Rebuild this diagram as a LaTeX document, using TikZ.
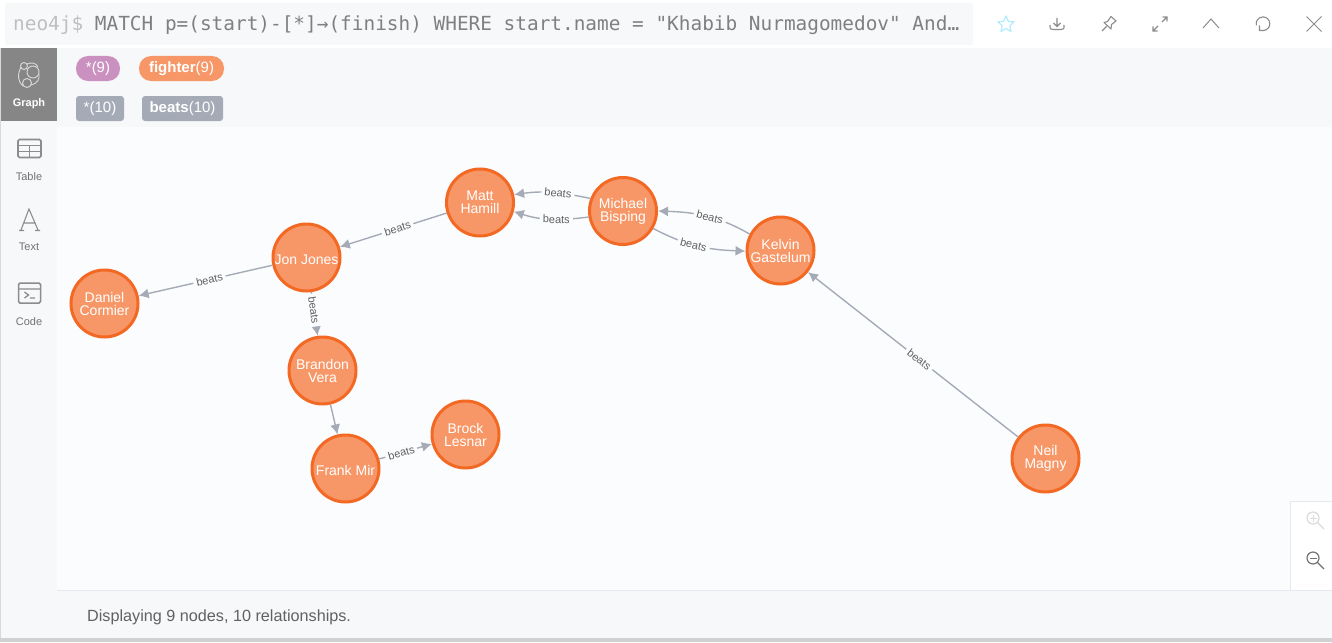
\documentclass[tikz,border=0pt]{standalone}
\usepackage{fontspec}
\setmainfont{Liberation Sans}
\newfontfamily\queryfont{DejaVu Sans Mono}
\usepackage{xcolor}
\usepackage{tikz}
\usetikzlibrary{arrows.meta, positioning, calc}

\definecolor{fighterfill}{HTML}{F79767}
\definecolor{fighterline}{HTML}{F36924}
\definecolor{edgegrey}{HTML}{A5ABB6}
\definecolor{panelbg}{HTML}{F7F8FA}
\definecolor{graphbg}{HTML}{FBFCFE}
\definecolor{tabgrey}{HTML}{868686}
\definecolor{icongrey}{HTML}{8C8C8C}
\definecolor{framegrey}{HTML}{E6E8EF}
\definecolor{labelpurple}{HTML}{C990C0}

\tikzset{
    fighter/.style={draw=fighterline, fill=fighterfill, circle, line width=3pt, minimum size=67pt, inner sep=0pt, text=white, align=center, font=\fontsize{14}{13}\selectfont, execute at begin node={\rule{0pt}{14pt}}},
    beats/.style={draw=edgegrey, line width=1.4pt, -{Latex[length=10pt,width=10pt]}},
    beatslabel/.style={sloped, fill=graphbg, inner xsep=3pt, inner ysep=1.5pt, text=black!62, font=\fontsize{11}{11}\selectfont},
    pill/.style={text=white, inner sep=0pt, minimum height=25pt, font=\fontsize{15}{15}\selectfont},
    sidelabel/.style={text=black!55, inner sep=0pt, font=\fontsize{11}{12}\selectfont},
    icon/.style={draw=icongrey, line width=1.1pt}
}

\begin{document}
\begin{tikzpicture}[x=1pt, y=1pt]
    \useasboundingbox (0,0) rectangle (1332,-642);
    \fill [white] (0,0) rectangle (1332,-642);
    \fill [panelbg, rounded corners=2pt] (5,-3) rectangle (973,-45);
    \fill [panelbg] (0,-48) rectangle (1332,-638);
    \fill [graphbg] (57,-127) rectangle (1332,-590);
    \fill [black!18] (0,-638) rectangle (1332,-642);
    \fill [black!15] (0,-48) rectangle (1,-638);
    \fill [tabgrey] (1,-48) rectangle (57,-121);
    \draw [framegrey] (57,-590.5) -- (1332,-590.5);
    \draw [framegrey, fill=white] (1332,-501.5) -- (1290.5,-501.5) -- (1290.5,-590) -- (1332,-590);

    \node (query) [anchor=west, inner sep=0pt, text=black!50, font=\queryfont\fontsize{19.4}{20}\selectfont] at (13,-25) {\textcolor{black!25}{neo4j\$} MATCH p=(start)-[*]→(finish) WHERE start.name = "Khabib Nurmagomedov" And…};

    \node (allnodes) [pill, fill=labelpurple, rounded corners=12pt, minimum width=44pt] at (98,-68.5) {*(9)};
    \node (fighterpill) [pill, fill=fighterfill, rounded corners=12pt, minimum width=85pt] at (181.5,-68.5) {\textbf{fighter}(9)};
    \node (allrels) [pill, fill=edgegrey, rounded corners=3pt, minimum width=48pt] at (100,-108.5) {*(10)};
    \node (beatspill) [pill, fill=edgegrey, rounded corners=3pt, minimum width=81pt] at (182.5,-108.5) {\textbf{beats}(10)};

    \node (graphtab) [sidelabel, text=white, font=\bfseries\fontsize{11}{12}\selectfont] at (29,-104) {Graph};
    \node (tabletab) [sidelabel] at (29,-177) {Table};
    \node (texttab) [sidelabel] at (29,-247) {Text};
    \node (codetab) [sidelabel] at (29,-322) {Code};
    \node (status) [anchor=west, inner sep=0pt, text=black!62, font=\fontsize{16.2}{18}\selectfont] at (87,-617) {Displaying 9 nodes, 10 relationships.};

    \draw [white!85!black, line width=.9pt] (24,-66) circle (3.5) (33,-72) circle (6) (27,-83) circle (4.5);
    \draw [white!85!black, line width=.9pt] (21,-67) .. controls (17,-75) and (18,-82) .. (23,-86) (31,-85) .. controls (37,-84) and (40,-79) .. (39,-74) (27,-64) .. controls (32,-62) and (36,-63) .. (38,-67);
    \draw [icon, line width=1.6pt, rounded corners=1.5pt] (18,-139.5) rectangle (41,-157.5);
    \draw [icon, line width=1.3pt] (18,-145.5) -- (41,-145.5) (18,-151.5) -- (41,-151.5) (29.5,-145.5) -- (29.5,-157.5);
    \draw [icon] (21,-230) -- (29,-209) -- (38,-230) (24,-223) -- (35.5,-223) (19,-230.5) -- (24,-230.5) (35,-230.5) -- (40,-230.5);
    \draw [icon, line width=1.5pt, rounded corners=1.5pt] (18.5,-283) rectangle (40.5,-303);
    \draw [icon, line width=1.3pt] (18.5,-289) -- (40.5,-289) (24.5,-292) -- (28.5,-295) -- (24.5,-298) (30,-298) -- (35,-298);

    \draw [draw=blue!25!cyan!30, line width=1.2pt, line join=round] (1006,-16) -- (1008.4,-21.4) -- (1014,-21.8) -- (1009.8,-25.8) -- (1011,-31.5) -- (1006,-28.6) -- (1001,-31.5) -- (1002.2,-25.8) -- (998,-21.8) -- (1003.6,-21.4) -- cycle;
    \draw [icon] (1057,-18) -- (1057,-26) (1053.5,-23) -- (1057,-26.5) -- (1060.5,-23) (1050,-25) .. controls (1050,-29) and (1050,-29.5) .. (1053,-29.5) -- (1061,-29.5) .. controls (1064,-29.5) and (1064,-29) .. (1064,-25);
    \draw [icon, line join=round] (1102,-31) -- (1106.5,-26.5) (1104,-22.5) -- (1111,-29) -- (1111.5,-24.5) -- (1116,-21) -- (1111,-16.5) -- (1107.5,-21.5) -- cycle;
    \draw [icon] (1153,-31) -- (1158,-26) (1153,-26.5) -- (1153,-31) -- (1157.5,-31) (1162,-22) -- (1167,-17) (1162.5,-17) -- (1167,-17) -- (1167,-21.5);
    \draw [icon, line width=1pt] (1203,-28) -- (1211,-19) -- (1219,-28);
    \draw [icon] (1263,-30.5) arc (-90:195:6.8) (1259.5,-25.5) -- (1259.5,-30.5) -- (1264,-30.5);
    \draw [icon, line width=1pt] (1306.5,-16.5) -- (1321.5,-31.5) (1321.5,-16.5) -- (1306.5,-31.5);

    \draw [black!14, line width=1.2pt] (1313,-518) circle (6) (1317.5,-522.5) -- (1324,-529);
    \draw [black!14, line width=1pt] (1309.5,-518) -- (1316.5,-518) (1313,-514.5) -- (1313,-521.5);
    \draw [black!55, line width=1.2pt] (1313,-558) circle (6) (1317.5,-562.5) -- (1324,-569);
    \draw [black!55, line width=1pt] (1309.5,-558) -- (1316.5,-558);

    \node (matt) [fighter] at (480,-202.5) {Matt\\Hamill};
    \node (michael) [fighter] at (623,-211) {Michael\\Bisping};
    \node (kelvin) [fighter] at (780.5,-250.5) {Kelvin\\Gastelum};
    \node (jon) [fighter] at (306.5,-257.5) {Jon Jones};
    \node (daniel) [fighter] at (104.5,-303.5) {Daniel\\Cormier};
    \node (brandon) [fighter] at (322.5,-370.5) {Brandon\\Vera};
    \node (frank) [fighter] at (345.5,-468.5) {Frank Mir};
    \node (brock) [fighter] at (465.5,-434.5) {Brock\\Lesnar};
    \node (neil) [fighter] at (1045.5,-458.5) {Neil\\Magny};

    \draw [beats] (michael.159) to[out=168, in=8] node[beatslabel, pos=.42] {beats} (matt.13);
    \draw [beats] (michael.190) to[out=187, in=-18] node[beatslabel, pos=.42] {beats} (matt.-15);
    \draw [beats] (kelvin.152) to[out=150, in=-2] node[beatslabel, pos=.45] {beats} (michael.0);
    \draw [beats] (michael.-30) to[out=-28, in=178] node[beatslabel, pos=.45] {beats} (kelvin.181);
    \draw [beats] (matt) -- node[beatslabel, pos=.46] {beats} (jon);
    \draw [beats] (jon) -- node[beatslabel, pos=.47] {beats} (daniel);
    \draw [beats] (jon) -- node[beatslabel, pos=.41] {beats} (brandon);
    \draw [beats] (brandon) -- (frank);
    \draw [beats] (frank) -- node[beatslabel, pos=.42] {beats} (brock);
    \draw [beats] (neil) -- node[beatslabel, pos=.47] {beats} (kelvin);
\end{tikzpicture}
\end{document}
